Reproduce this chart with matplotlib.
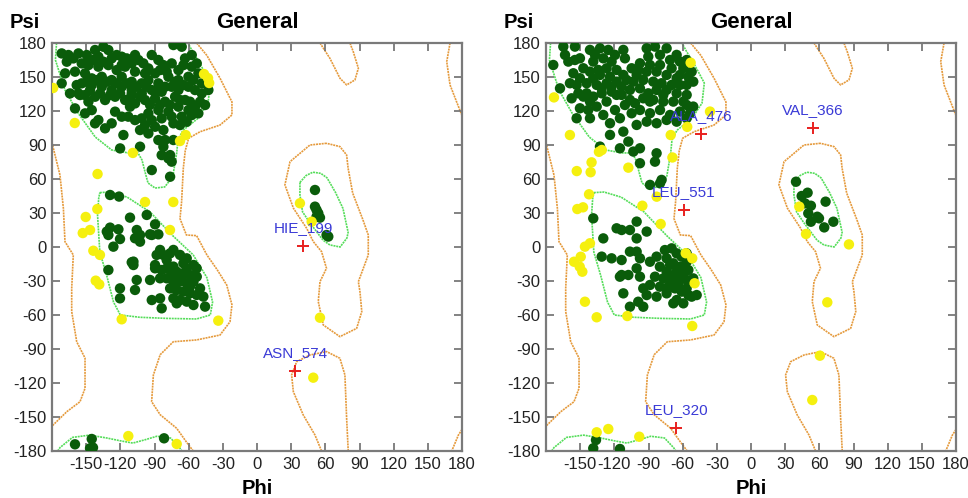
import numpy as np
import matplotlib
matplotlib.use('Agg')
import matplotlib.pyplot as plt

plt.rcParams['font.family'] = ['Liberation Sans', 'DejaVu Sans']

# ---- contour outlines (phi, psi), same reference map for both panels ----
fav_beta = [(-176, 180), (-177, 165), (-168.6, 138.5), (-157, 118), (-142, 97), (-127.6, 85.6),
            (-113, 83), (-104.5, 83), (-101, 76.8), (-98, 65), (-95.7, 56.5), (-89.5, 52),
            (-81, 53), (-74, 62), (-70.5, 83), (-69.4, 94.4), (-65, 103), (-51.8, 113.5),
            (-43, 127), (-41, 144.7), (-48.6, 159), (-57.3, 173.8), (-60.6, 180)]
fav_beta_bottom = [(-175, -180), (-173, -177), (-162, -168), (-147, -166), (-132, -168.5),
                   (-120, -171), (-109, -173), (-98, -170), (-88, -167), (-76, -168.5),
                   (-68, -177), (-66, -180)]
fav_alpha = [(-138, 48), (-129, 48.5), (-114, 44), (-94, 31), (-74, 10), (-56, -7), (-44, -27),
             (-39, -48.5), (-41, -60), (-53, -63.5), (-79, -63), (-103, -62), (-120, -60),
             (-126, -48.5), (-132, -25), (-138, -4.5), (-140, 28), (-139, 43), (-138, 48)]
fav_lalpha = [(37.7, 57), (43, 63), (49, 66), (56, 65), (61.5, 61), (69, 48), (75.5, 34),
              (80, 13), (79, 8), (73, 0), (64, 1.8), (58, 6), (52.7, 13), (46, 22), (40, 31),
              (37.7, 46), (37.7, 57)]

allow_main = [(-53, 180), (-44, 169), (-32.5, 149), (-22, 128), (-22, 116.5), (-32.5, 107.6),
              (-50, 101.7), (-60, 96), (-63, 85), (-64.7, 69.5), (-66.2, 40), (-67.6, 25),
              (-62, 10.6), (-53, 10), (-44, -7), (-35, -20), (-26.6, -33.5), (-22, -51),
              (-23.7, -66), (-32.5, -77.7), (-53, -82), (-73.5, -83.6), (-85, -95), (-91, -113),
              (-92.5, -136.5), (-85, -148), (-70.5, -160), (-62, -172), (-56, -180)]
allow_left = [(-180, 92), (-178.8, 87), (-173, 63.5), (-170, 34), (-168.6, 4.7), (-161.3, -7),
              (-162.7, -36.5), (-162.7, -57), (-158.3, -83.6), (-151, -98), (-151, -124.7),
              (-155.4, -136.5), (-167, -145.3), (-180, -158)]
allow_right_top = [(169.5, 180), (166.6, 163.5), (169.5, 143), (175.3, 128), (180, 116)]
allow_right_bottom = [(180, -161), (176.8, -166), (171, -180)]
allow_top_mid = [(55.3, 180), (64, 166.5), (72.9, 148.8), (78.7, 143), (86, 147.4), (89, 157.7),
                 (84.5, 172.4), (81.6, 180)]
allow_bottom_mid = [(56.7, -180), (50.9, -165.9), (40.6, -148.2), (31.9, -127.6), (30.4, -112.9),
                    (34.8, -101.2), (46.5, -95.3), (61.1, -92.3), (72.8, -98.2), (77.2, -112.9),
                    (78.7, -151.2), (80.1, -180)]
allow_lalpha = [(61, 91.5), (46.5, 90), (29, 75.3), (24.5, 54.8), (32, 34.2), (43.6, 16.5),
                (49.4, 4.8), (56.7, -4.1), (61, -18.8), (55.3, -30.6), (53.8, -48.2), (58.2, -68.8),
                (72.8, -79.1), (87.5, -71.8), (92, -57), (90.4, -39.4), (89, -30.6), (97.7, -7),
                (97.7, 10.6), (93, 24), (84, 47.6), (80, 69.5), (78.7, 81.2), (72.8, 88.6), (61, 91.5)]

fav_lines = [fav_beta, fav_beta_bottom, fav_alpha, fav_lalpha]
allow_lines = [allow_main, allow_left, allow_right_top, allow_right_bottom,
               allow_top_mid, allow_bottom_mid, allow_lalpha]

# ---- left panel residues ----
left_core = [
    (-171.5, 170.8), (-165.6, 169.4), (-167, 163.5), (-156.8, 170.8), (-149.5, 169.4), (-142.2, 173.8),
    (-134.9, 176.7), (-139.3, 167.9), (-130.5, 173.8), (-123.2, 169.4), (-114.4, 166.4), (-107.1, 169.4),
    (-99.8, 162), (-92.4, 169.4), (-86.6, 165), (-73.4, 178.2), (-66.1, 176.7), (-63.2, 166.4),
    (-57.3, 159.1), (-69, 156.1), (-74.9, 162), (-82.2, 160.5), (-89.5, 153.2), (-98.3, 153.2),
    (-107.1, 154.7), (-115.8, 159.1), (-123.2, 156.1), (-130.5, 160.5), (-139.3, 159.1), (-148, 160.5),
    (-153.9, 162), (-159.8, 154.7), (-151, 153.2), (-145.1, 148.8), (-136.3, 150.2), (-127.6, 147.3),
    (-118.8, 150.2), (-110, 145.8), (-101.2, 144.4), (-95.4, 147.3), (-86.6, 144.4), (-77.8, 150.2),
    (-69, 147.3), (-60.2, 150.2), (-51.5, 153.2), (-48.5, 144.4), (-54.4, 138.5), (-60.2, 141.4),
    (-69, 138.5), (-74.9, 141.4), (-83.7, 137), (-92.4, 138.5), (-101.2, 135.5), (-110, 138.5),
    (-118.8, 141.4), (-127.6, 138.5), (-136.3, 141.4), (-145.1, 142.9), (-153.9, 144.4), (-171.5, 144.4),
    (-164.2, 135.5), (-151, 134.1), (-142.2, 132.6), (-133.4, 129.7), (-124.6, 132.6), (-115.8, 129.7),
    (-107.1, 126.7), (-98.3, 129.7), (-89.5, 131.1), (-80.7, 128.2), (-71.9, 132.6), (-63.2, 129.7),
    (-54.4, 123.8), (-45.6, 125.3), (-48.5, 135.5), (-42.7, 138.5), (-51.5, 117.9), (-60.2, 120.8),
    (-69, 123.8), (-77.8, 119.4), (-86.6, 120.8), (-95.4, 117.9), (-101.2, 113.5), (-92.4, 112),
    (-83.7, 113.5), (-74.9, 115), (-66.1, 115), (-57.3, 116.4), (-159.8, 122.3), (-148, 128.2),
    (-145.1, 120.8), (-139.3, 112), (-142.2, 109.1), (-133.4, 104.7), (-124.6, 119.4), (-118.8, 115),
    (-111.5, 123.8), (-98.3, 107.6), (-89.5, 106.1), (-82.2, 103.2), (-73.4, 109.1), (-117.3, 98.8),
    (-120.2, 87), (-102.7, 88.5), (-86.6, 94.4), (-82.2, 88.5), (-80.7, 94.4), (-73.4, 94.4),
    (-83.7, 81.1), (-76.3, 81.1), (-74.9, 75.3), (-77.8, 78.2), (-92.4, 67.9), (-76.3, 62),
    (-155.4, 134.1), (-168.5, 153.2), (-118.8, 160.5), (-110, 135.5), (-148, 165), (-57.3, 169.4),
    (-161.2, 166.4), (-143.7, 165), (-134.9, 163.5), (-127.6, 166.4), (-118.8, 167.9), (-110, 162),
    (-104.1, 165), (-95.4, 157.6), (-85.1, 156.1), (-79.3, 154.7), (-64.6, 160.5), (-52.9, 162),
    (-55.9, 147.3), (-64.6, 142.9), (-71.9, 145.8), (-80.7, 141.4), (-88, 138.5), (-96.9, 141.4),
    (-105.6, 141.4), (-114.4, 144.4), (-123.2, 144.4), (-132, 145.8), (-140.7, 147.3), (-149.5, 145.8),
    (-158.3, 142.9), (-156.8, 135.5), (-146.6, 138.5), (-137.8, 135.5), (-129, 134.1), (-120.2, 135.5),
    (-111.5, 131.1), (-102.7, 132.6), (-93.9, 125.3), (-85.1, 125.3), (-76.3, 125.3), (-67.6, 129.7),
    (-58.8, 128.2), (-50, 128.2), (-113, 115), (-107.1, 112), (-67.6, 107.6), (-61.7, 110.5),
    (-151, 117.9), (-127.6, 109.1), (-102.7, 103.2), (-95.4, 100.2),
    # alpha region
    (-129, 45.9), (-121.1, 44.5), (-111.5, 25.9), (-96.8, 28.3), (-89.5, 20), (-129, 17.1),
    (-131.9, 13.6), (-121.7, 15.6), (-105.6, 15), (-102.7, 10.6), (-93.9, 11.2), (-86.6, 11.2),
    (-130.5, 10.6), (-120.3, 7), (-126.1, 0.3), (-107.1, 7.7), (-102.7, 4.7), (-92.4, 10.6),
    (-85.1, -2.6), (-88.1, -7), (-73.4, -2.6), (-67.6, -7), (-79.3, -11.5), (-61.7, -10),
    (-55.8, -15.9), (-53, -18.8), (-130.5, -20.3), (-108.5, -12.9), (-108.5, -15.9), (-89.5, -15.9),
    (-89.5, -18.8), (-79.3, -18.8), (-73.4, -17.3), (-70.5, -21.8), (-64.6, -23.2), (-58.8, -24.7),
    (-52.9, -26.2), (-79.3, -27.6), (-73.4, -30.6), (-67.6, -30.6), (-61.7, -32), (-55.8, -30.6),
    (-50, -36.5), (-76.3, -36.5), (-70.5, -38), (-64.6, -39.4), (-58.8, -40.9), (-52.9, -42.3),
    (-47.1, -43.8), (-73.4, -45.3), (-67.6, -46.8), (-61.7, -48.2), (-55.8, -51.2), (-70.5, -49.7),
    (-45.6, -52.6), (-93.9, -29.1), (-85.1, -27.6), (-92.4, -46.8), (-85.1, -45.3), (-83.7, -54.1),
    (-105.6, -29.1), (-107.1, -37.9), (-120.3, -36.5), (-120.3, -45.3), (-110, -13.5), (-82.2, -7),
    (-76.3, -5.6), (-64.6, -14.4), (-74.9, -23.2), (-83.7, -20.3), (-61.7, -18.8), (-58.8, -35),
    (-66.1, -26.2), (-57.3, -27.6), (-71, -26.2),
    # bottom strip and left-handed helix
    (-159.8, -174.1), (-145.1, -169.4), (-146.6, -177.6), (-144, -177), (-81.6, -168.8),
    (50.9, 50.3), (50.9, 35.6), (52.3, 32.7), (53.8, 29.8), (55.3, 25.9), (52.3, 26.8),
    (61.1, 10.6), (62.6, 9.2),
]
left_allowed = [
    (-46.5, 152.6), (-43, 149), (-42, 144.7), (-179, 140.3), (-160, 109.4), (-62.6, 98.8),
    (-67.6, 93.5), (-109, 83), (-140, 64.4), (-98.3, 39.7), (-73.5, 39.7), (-140.2, 33.5),
    (-150.4, 26.5), (-146.6, 15), (-153, 12.3), (-76.4, 15), (-143.7, -3.3), (-137.9, -7),
    (-141.6, -29.7), (-138.5, -33), (-118.8, -63.8), (-34, -65), (-70.5, -173.8), (-113, -166.8),
    (55.3, -62.4), (49.4, -115.3), (37.7, 38.6), (48, 22.3),
]
left_outliers = [('HIE_199', 40.6, 1.1), ('ASN_574', 33.4, -109.1)]

# ---- right panel residues ----
right_core = [
    (-173.6, 160.6), (-164.8, 176.8), (-154.6, 176.8), (-163.3, 169.5), (-154.6, 165), (-150.2, 166.5),
    (-141.4, 173.9), (-132.6, 175.3), (-125.3, 173.9), (-122.4, 163.6), (-138.5, 163.6), (-147.2, 157.7),
    (-156, 153.3), (-150.2, 148.9), (-141.4, 154.7), (-134.1, 156.2), (-126.8, 157.7), (-118, 156.2),
    (-110.7, 166.5), (-104.8, 157.7), (-97.5, 162.1), (-90.2, 168), (-84.3, 176.8), (-79.9, 169.5),
    (-71.1, 165), (-62.4, 163.6), (-65.3, 169.5), (-59.4, 157.7), (-52.1, 154.7), (-50.7, 145.9),
    (-56.5, 143), (-65.3, 148.9), (-74.1, 151.8), (-82.9, 154.7), (-91.6, 154.7), (-100.4, 151.8),
    (-109.2, 147.4), (-118, 145.9), (-126.8, 144.5), (-135.5, 143), (-144.3, 144.5), (-153.1, 143),
    (-159, 144.5), (-167.7, 140), (-157.5, 131.2), (-147.2, 132.7), (-138.5, 132.7), (-131.1, 135.6),
    (-122.4, 137.1), (-113.6, 134.2), (-106.3, 138.6), (-97.5, 140), (-90.2, 135.6), (-82.9, 138.6),
    (-74.1, 138.6), (-65.3, 135.6), (-56.5, 134.2), (-59.4, 128.3), (-50.7, 123.9), (-68.2, 128.3),
    (-77, 128.3), (-85.8, 129.8), (-94.6, 131.2), (-101.9, 126.8), (-110.7, 125.3), (-119.4, 120.9),
    (-126.8, 128.3), (-135.5, 123.9), (-142.9, 120.9), (-150.2, 122.4), (-153.1, 113.6), (-141.4, 113.6),
    (-129.7, 116.5), (-123.8, 109.2), (-115.1, 113.6), (-104.8, 118), (-97.5, 120.9), (-88.7, 118),
    (-79.9, 120.9), (-71.1, 116.5), (-62.4, 119.5), (-56.5, 113.6), (-65.3, 110.6), (-74.1, 112.1),
    (-82.9, 109.2), (-91.6, 110.6), (-100.4, 107.7), (-112.1, 101.8), (-107.7, 93), (-123.8, 98.9),
    (-132.6, 88.6), (-115.1, 87.1), (-103.3, 84.2), (-97.5, 87.1), (-82.9, 82.7), (-84.3, 75.3),
    (-97.5, 73.9), (-88.7, 54.8), (-78.5, 59.2), (-79.9, 56.2), (-56.5, 125.3), (-53.6, 118),
    (-160.4, 163.6), (-138.5, 148.9), (-118, 134.2), (-106.3, 129.8), (-94.6, 147.4), (-85.8, 145.9),
    (-78.5, 144.5), (-69.7, 143), (-62.4, 143), (-88.7, 128.3), (-77, 134.2), (-132.6, 151.8),
    (-123.8, 150.3), (-112.1, 151.8), (-103.3, 145.9), (-144.3, 135.6), (-69.7, 157.7), (-79.9, 160.6),
    (-88.7, 160.6), (-99, 156.2), (-113.6, 141.5), (-122.4, 141.5), (-131.1, 140), (-151.6, 135.6),
    (-141.4, 128.3), (-62.4, 151.8), (-55, 150.3), (-56.5, 165), (-74.1, 175.3), (-91.6, 175.3),
    (-112.1, 173.9), (-119.4, 169.5), (-129.7, 166.5), (-137, 169.5),
    # alpha region
    (-138.5, 25.3), (-113.6, 15), (-106.3, 15), (-100.4, 22.4), (-91.6, 13.6), (-118, 16.5),
    (-129.7, 7.6), (-100.4, 7.6), (-131.1, -8.5), (-122.4, -10), (-113.6, -11.5), (-106.3, -4.1),
    (-100.4, -4.1), (-97.5, -10), (-88.7, -13), (-82.9, -8.5), (-75.6, -2.7), (-69.7, -1.2),
    (-65.3, -5.6), (-61, -8.5), (-56.5, -13), (-74.1, -10), (-68.2, -14.4), (-62.4, -17.4),
    (-55, -20.3), (-80, -17.4), (-74.1, -21.8), (-68.2, -24.7), (-62.4, -27.7), (-56.5, -29.1),
    (-50.7, -27.7), (-113.6, -24.7), (-107.7, -24.7), (-100.4, -18.8), (-97.5, -26.2), (-84.3, -26.2),
    (-88.7, -33.5), (-80, -35), (-72.6, -35), (-66.8, -36.5), (-60.9, -39.4), (-55, -42.4),
    (-47.7, -42.4), (-112.1, -40.9), (-94.6, -36.5), (-91.6, -42.4), (-82.9, -43.8), (-74.1, -40.9),
    (-65.3, -46.8), (-59.4, -49.7), (-52.1, -43.8), (-106.3, -52.7), (-99, -48.3), (-94.6, -52.7),
    (-68.2, -49.7), (-115.1, -26.2), (-71.1, -15.9), (-65.3, -21.8), (-59.4, -24.7), (-56.5, -36.5),
    (-69.7, -29.1), (-77, -27.7), (-63.8, -33.5), (-56.5, -5.6),
    # bottom strip and left-handed helix
    (-136.1, -170.3), (-138.5, -177.6), (-115.1, -178.2),
    (39.5, 57.6), (44.5, 45), (49.7, 47.9), (47.4, 38.5), (52.6, 36.4), (50.3, 29.7), (58.2, 26.7),
    (59.7, 25.3), (52.6, 22.3), (65.5, 40), (72.3, 22.3), (64.3, 17.3),
]
right_allowed = [
    (-53, 162.6), (-36, 119.5), (-56, 106), (-70.5, 98.8), (-69, 79), (-173, 132), (-159, 98.8),
    (-133.5, 84), (-131, 85.6), (-140, 74.7), (-153, 67), (-140.8, 66), (-107.7, 70), (-142.2, 46.5),
    (-152.5, 33.5), (-147.5, 35), (-95.4, 36.4), (-82.8, 44.4), (-79.3, 20.3), (-145.8, 0.3),
    (-141.4, 3.3), (-149.5, -8.6), (-155.4, -13), (-150.4, -17.4), (-148.1, -21.8), (-145.8, -48.3),
    (-135.5, -62), (-108.6, -60.9), (-51.6, -69.7), (-49.5, -32), (-57.3, -5.5), (-51.6, -10),
    (-135.5, -163.5), (-125.3, -160.6), (-98.1, -167.4),
    (42.4, 35.6), (48.3, 11.5), (86, 2.3), (67, -48.8), (60.5, -95.9), (53.8, -135),
]
right_outliers = [('ALA_476', -43.8, 99.6), ('LEU_551', -58.9, 32.7),
                  ('VAL_366', 54.2, 104.7), ('LEU_320', -65.6, -160)]

ticks = list(range(-180, 181, 30))
xtick_labels = [''] + [str(t) for t in ticks[1:]]
ytick_labels = [str(t) for t in ticks]

fig = plt.figure(figsize=(9.68, 4.98), dpi=100)
panels = [
    (52, left_core, left_allowed, left_outliers),
    (546, right_core, right_allowed, right_outliers),
]

for left_px, core, allowed, outliers in panels:
    ax = fig.add_axes([left_px / 968, 47 / 498, 410 / 968, 408 / 498])
    for line in allow_lines:
        arr = np.array(line)
        ax.plot(arr[:, 0], arr[:, 1], color='#e59a3c', lw=1.2, ls=(0, (1.2, 0.5)), zorder=1)
    for line in fav_lines:
        arr = np.array(line)
        ax.plot(arr[:, 0], arr[:, 1], color='#55dd5a', lw=1.2, ls=(0, (1.2, 0.5)), zorder=1)

    c = np.array(core)
    ax.scatter(c[:, 0], c[:, 1], s=56, color='#0a5c0a', edgecolors='none', zorder=3)
    a = np.array(allowed)
    ax.scatter(a[:, 0], a[:, 1], s=56, color='#f5f00f', edgecolors='none', zorder=3)

    for name, phi, psi in outliers:
        ax.plot(phi, psi, marker='+', color='#e8201e', ms=8, mew=1.4, zorder=4)
        ax.annotate(name, (phi, psi), xytext=(0, 8), textcoords='offset points',
                    ha='center', va='bottom', color='#3a3ad6', fontsize=11, zorder=5)

    ax.set_xlim(-180, 180)
    ax.set_ylim(-180, 180)
    ax.set_xticks(ticks)
    ax.set_xticklabels(xtick_labels)
    ax.set_yticks(ticks)
    ax.set_yticklabels(ytick_labels)
    ax.tick_params(direction='in', length=6, width=1.2, color='#6d6d6d', labelsize=12,
                   labelcolor='#222222', top=True, right=True, pad=4)
    for sp in ax.spines.values():
        sp.set_color('#7a7a7a')
        sp.set_linewidth(1.6)

    cx = (left_px + 205) / 968
    fig.text(cx, 1 - 22 / 498, 'General', ha='center', va='center', fontsize=16, fontweight='bold')
    fig.text(cx, 1 - 488 / 498, 'Phi', ha='center', va='center', fontsize=14.5, fontweight='bold')
    fig.text((left_px - 27) / 968, 1 - 22 / 498, 'Psi', ha='center', va='center',
             fontsize=14.5, fontweight='bold')

fig.savefig('out.png', dpi=100)
